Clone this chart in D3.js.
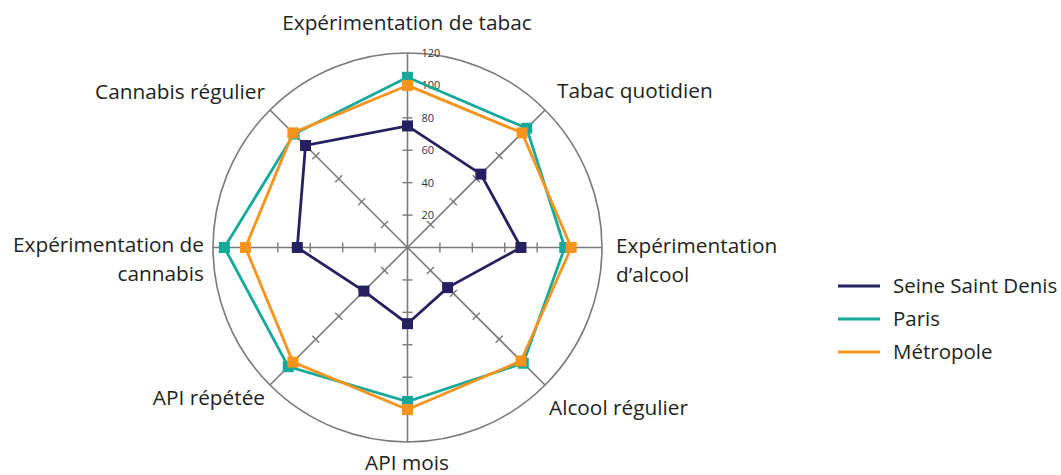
<!DOCTYPE html>
<html>
<head>
<meta charset="utf-8">
<script src="https://cdn.jsdelivr.net/npm/d3@7"></script>
<style>
  body { margin: 0; background: #fff; }
  text { font-family: "Open Sans", sans-serif; fill: #231f20; }
</style>
</head>
<body>
<svg width="1061" height="475"></svg>
<script>
const axes = ["Expérimentation de tabac", "Tabac quotidien", "Expérimentation d’alcool", "Alcool régulier",
  "API mois", "API répétée", "Expérimentation de cannabis", "Cannabis régulier"];
const seineSaintDenis = [75, 64, 70, 35, 47, 38, 68, 89];
const paris = [105, 104, 97, 101, 95, 104, 113, 99];
const metropole = [100, 100, 101, 99, 100, 100, 100, 100];
const tickValues = [20, 40, 60, 80, 100, 120];

const series = [
  { name: "Paris", values: paris, color: "#14a99b" },
  { name: "Métropole", values: metropole, color: "#f7941d" },
  { name: "Seine Saint Denis", values: seineSaintDenis, color: "#252161" }
];
const legendOrder = ["Seine Saint Denis", "Paris", "Métropole"];

const svg = d3.select("svg");
const cx = 407.5, cy = 247.5, R = 194.5;
const r = d3.scaleLinear().domain([0, 120]).range([0, R]);
const angle = d3.scalePoint().domain(d3.range(axes.length)).range([0, 2 * Math.PI * (axes.length - 1) / axes.length]);

const g = svg.append("g").attr("transform", `translate(${cx},${cy})`);
const grid = "#7a7a7a";

// outer circle
g.append("circle").attr("r", r(120)).attr("fill", "none").attr("stroke", grid).attr("stroke-width", 1.6);

// spokes + tick marks
axes.forEach((a, i) => {
  const t = angle(i);
  const ax = g.append("g").attr("transform", `rotate(${t * 180 / Math.PI})`);
  ax.append("line").attr("x1", 0).attr("y1", 0).attr("x2", 0).attr("y2", -r(120))
    .attr("stroke", grid).attr("stroke-width", 1.6);
  ax.selectAll("line.tk").data(tickValues.slice(0, 5)).enter().append("line")
    .attr("class", "tk")
    .attr("x1", -5).attr("x2", 5)
    .attr("y1", d => -r(d)).attr("y2", d => -r(d))
    .attr("stroke", grid).attr("stroke-width", 1.4);
});

// tick labels
g.selectAll("text.tl").data(tickValues).enter().append("text")
  .attr("class", "tl")
  .attr("x", 14).attr("y", d => -r(d))
  .attr("dy", "0.35em")
  .attr("font-size", 11)
  .style("fill", "#333")
  .text(d => d);

// series
const line = d3.lineRadial().angle((d, i) => angle(i)).radius(d => r(d)).curve(d3.curveLinearClosed);
series.forEach(s => {
  g.append("path").datum(s.values).attr("d", line)
    .attr("fill", "none").attr("stroke", s.color).attr("stroke-width", 2.8);
  g.selectAll(null).data(s.values).enter().append("rect")
    .attr("x", (d, i) => r(d) * Math.sin(angle(i)) - 5.5)
    .attr("y", (d, i) => -r(d) * Math.cos(angle(i)) - 5.5)
    .attr("width", 11).attr("height", 11)
    .attr("fill", s.color);
});

// axis labels
const labels = [
  { lines: ["Expérimentation de tabac"], x: 407, y: 30, anchor: "middle" },
  { lines: ["Tabac quotidien"], x: 557, y: 98, anchor: "start" },
  { lines: ["Expérimentation", "d’alcool"], x: 616, y: 253, anchor: "start" },
  { lines: ["Alcool régulier"], x: 549, y: 415, anchor: "start" },
  { lines: ["API mois"], x: 407, y: 470, anchor: "middle" },
  { lines: ["API répétée"], x: 265, y: 405, anchor: "end" },
  { lines: ["Expérimentation de", "cannabis"], x: 204, y: 252, anchor: "end" },
  { lines: ["Cannabis régulier"], x: 265, y: 99, anchor: "end" }
];
labels.forEach(l => {
  const t = svg.append("text").attr("x", l.x).attr("y", l.y)
    .attr("text-anchor", l.anchor).attr("font-size", 20.8);
  l.lines.forEach((ln, j) => {
    t.append("tspan").attr("x", l.x).attr("dy", j === 0 ? 0 : 29).text(ln);
  });
});

// legend
const colorOf = Object.fromEntries(series.map(s => [s.name, s.color]));
const lg = svg.append("g").attr("transform", "translate(838,286)");
legendOrder.forEach((name, i) => {
  lg.append("line").attr("x1", 0).attr("x2", 42).attr("y1", i * 33).attr("y2", i * 33)
    .attr("stroke", colorOf[name]).attr("stroke-width", 3);
  lg.append("text").attr("x", 55).attr("y", i * 33).attr("dy", "0.35em")
    .attr("font-size", 20.5).text(name);
});
</script>
</body>
</html>
